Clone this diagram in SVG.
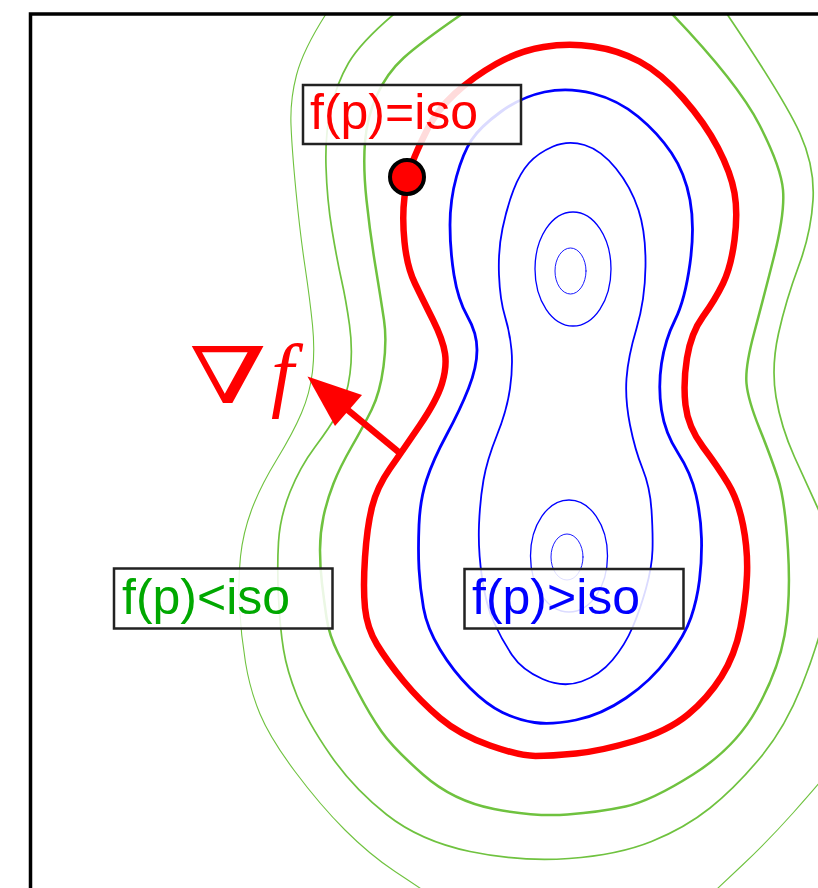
<svg xmlns="http://www.w3.org/2000/svg" width="818" height="888" viewBox="0 0 818 888">
<style>
.c{fill:none;stroke-linejoin:round;stroke-linecap:round}
.g{stroke:#6fc23f}
.b{stroke:#0000ff}
.box{fill:#ffffff;fill-opacity:0.86;stroke:#222;stroke-width:2.5}
.lbl{font-family:"Liberation Sans",Arial,sans-serif;font-size:50px}
</style>
<defs>
<clipPath id="frameclip"><rect x="30" y="14" width="800" height="880"/></clipPath>
</defs>
<rect x="0" y="0" width="818" height="888" fill="#ffffff"/>
<g id="contours" clip-path="url(#frameclip)">
<g id="green-outer" class="c g" stroke-width="1.1">
<path d="M326,14 Q303,50 296.5,75 Q290,100 291,125 Q292,150 296,191.5 Q300,233 305,266.5 Q310,300 312.5,325 Q315,350 312.5,371.5 Q310,393 301.5,413 Q293,433 276.5,460 Q260,487 251.5,510 Q243,533 240.5,556.5 Q238,580 239.5,607.5 Q241,635 245.5,662.5 Q250,690 260,714 Q270,738 295,771.5 Q320,805 345,830 Q370,855 395,871.5 Q420,888 445,905"/>
<path d="M700,905 Q718,888 743,864.5 Q768,841 793,813 Q818,785 830,770"/>
</g>
<g id="green-middle" class="c g" stroke-width="1.7">
<path d="M394,14 Q360,43 348.5,63 Q337,83 331,108 Q325,133 326,166.5 Q327,200 332,230 Q337,260 341.5,280 Q346,300 349.5,325 Q353,350 350,373.5 Q347,397 338.5,412 Q330,427 315,447 Q300,467 290,492 Q280,517 278.5,542 Q277,567 278.5,597.5 Q280,628 283.5,649.5 Q287,671 297,696 Q307,721 330,754.5 Q353,788 386.5,814.5 Q420,841 470,851.5 Q520,862 569,858.5 Q618,855 651.5,841.5 Q685,828 710,808 Q735,788 760,758 Q785,728 801.5,686.5 Q818,645 826,610"/>
<path d="M830,535 Q808,487 794.5,457 Q781,427 776,397 Q771,367 778.5,333.5 Q786,300 798.5,266.5 Q811,233 813,200 Q815,167 800,133.5 Q785,100 727,14"/>
</g>
<g id="green-inner" class="c g" stroke-width="2.5">
<path d="M462,14 Q420,43 403.5,58 Q387,73 377,95 Q367,117 365,142 Q363,167 366.5,200 Q370,233 375.5,266.5 Q381,300 384,320 Q387,340 383.5,366.5 Q380,393 371.5,410 Q363,427 351.5,447 Q340,467 333.5,483.5 Q327,500 323.5,516.5 Q320,533 320,550 Q320,567 322,583.5 Q324,600 326.5,617.5 Q329,635 338,653 Q347,671 358.5,693 Q370,715 381.5,731.5 Q393,748 423,774.5 Q453,801 494,809 Q535,817 567.5,814.5 Q600,812 625.5,806.5 Q651,801 693,774.5 Q735,748 756.5,709.5 Q778,671 784.5,635.5 Q791,600 788,550 Q785,500 778,478.5 Q771,457 759.5,428.5 Q748,400 746.5,383.5 Q745,367 754,333.5 Q763,300 774,256.5 Q785,213 783,190 Q781,167 759.5,125 Q738,83 672,14"/>
</g>
<g id="iso-contour" class="c" stroke="#ff0000" stroke-width="6.5">
<path d="M543.5,47 Q568,43 593,46.5 Q618,50 639.5,61.5 Q661,73 683,98 Q705,123 718,148 Q731,173 734.5,193 Q738,213 734.5,240 Q731,267 723,283.5 Q715,300 703,316.5 Q691,333 687,358 Q683,383 685.5,405 Q688,427 703,447 Q718,467 728,483.5 Q738,500 743,525 Q748,550 747,575 Q746,600 740.5,627.5 Q735,655 721.5,676.5 Q708,698 688,714.5 Q668,731 634.5,741 Q601,751 576,753.5 Q551,756 535.5,756 Q520,756 490,745.5 Q460,735 440,718 Q420,701 403.5,681 Q387,661 377,644.5 Q367,628 365,608 Q363,588 365,557.5 Q367,527 372,507 Q377,487 390,468.5 Q403,450 420,425 Q437,400 442,383.5 Q447,367 445,353.5 Q443,340 433,320 Q423,300 415,283.5 Q407,267 404.5,242 Q402,217 404.5,197 Q407,177 412,163.5 Q417,150 427,130 Q437,110 455,93.5 Q473,77 496,64 Q519,51 543.5,47 Z"/>
</g>
<g id="blue-outer" class="c b" stroke-width="2.8">
<path d="M544.5,92 Q568,87 593,93.5 Q618,100 638,116.5 Q658,133 671.5,153 Q685,173 690,200 Q695,227 690,263.5 Q685,300 675,320 Q665,340 661.5,363.5 Q658,387 661.5,410 Q665,433 678,453 Q691,473 696,495 Q701,517 701.5,538.5 Q702,560 699.5,580 Q697,600 691,617.5 Q685,635 668,658 Q651,681 626,698 Q601,715 576,720 Q551,725 534.5,722.5 Q518,720 502.5,712.5 Q487,705 470,688 Q453,671 440,649.5 Q427,628 423.5,608 Q420,588 419,569 Q418,550 419,525 Q420,500 426.5,480 Q433,460 446.5,435 Q460,410 468.5,388.5 Q477,367 477,350 Q477,333 467.5,316.5 Q458,300 454,275 Q450,250 450,225 Q450,200 456.5,176.5 Q463,153 471.5,140 Q480,127 500.5,112 Q521,97 544.5,92 Z"/>
</g>
<g id="blue-middle" class="c b" stroke-width="1.8">
<path d="M553,146.5 Q568,140 584.5,145 Q601,150 616,168.5 Q631,187 638.5,210 Q646,233 645.5,266.5 Q645,300 636.5,328.5 Q628,357 626.5,378.5 Q625,400 630,425 Q635,450 642.5,468.5 Q650,487 651.5,510 Q653,533 652.5,550 Q652,567 646,588.5 Q640,610 632.5,627.5 Q625,645 612.5,660 Q600,675 581.5,681.5 Q563,688 542.5,679 Q522,670 512,655 Q502,640 494,622.5 Q486,605 482,577.5 Q478,550 479,525 Q480,500 483.5,480 Q487,460 497,435 Q507,410 510,388.5 Q513,367 511.5,350 Q510,333 505,316.5 Q500,300 499,275 Q498,250 502.5,228.5 Q507,207 513.5,190 Q520,173 529,163 Q538,153 553,146.5 Z"/>
</g>
<g id="blue-peaks" class="c b">
<ellipse cx="573" cy="269" rx="38" ry="57" stroke-width="1.3"/>
<ellipse cx="570.5" cy="271" rx="15.5" ry="23" stroke-width="0.9"/>
<ellipse cx="569" cy="556" rx="38.5" ry="56" stroke-width="1.3"/>
<ellipse cx="567" cy="557" rx="16" ry="23" stroke-width="0.9"/>
</g>
</g>
<rect id="frame" x="30.5" y="14" width="900" height="900" fill="none" stroke="#000" stroke-width="3.5"/>
<g id="label-iso">
<rect class="box" x="303" y="85" width="218" height="59"/>
<text class="lbl" x="310" y="128.5" fill="#ff0000">f(p)=iso</text>
</g>
<g id="point-p">
<circle cx="407" cy="177" r="17" fill="#ff0000" stroke="#000" stroke-width="4"/>
</g>
<g id="label-less">
<rect class="box" x="114" y="568.5" width="218.5" height="60"/>
<text class="lbl" x="122" y="613.5" fill="#00a800">f(p)&lt;iso</text>
</g>
<g id="label-greater">
<rect class="box" x="464.5" y="569" width="219" height="59.5"/>
<text class="lbl" x="472" y="613.5" fill="#0000ff">f(p)&gt;iso</text>
</g>
<g id="connectors">
<line x1="401" y1="454" x2="346" y2="408.5" stroke="#ff0000" stroke-width="6.5"/>
<polygon points="307.5,376.5 362,395 335,426" fill="#ff0000"/>
</g>
<g id="label-gradient" fill="#ff0000">
<text x="189" y="403" font-family="'DejaVu Serif',serif" font-size="78" textLength="78" lengthAdjust="spacingAndGlyphs">∇</text>
<text x="271" y="401" font-family="'Liberation Serif',serif" font-style="italic" font-size="82">f</text>
</g>
</svg>
